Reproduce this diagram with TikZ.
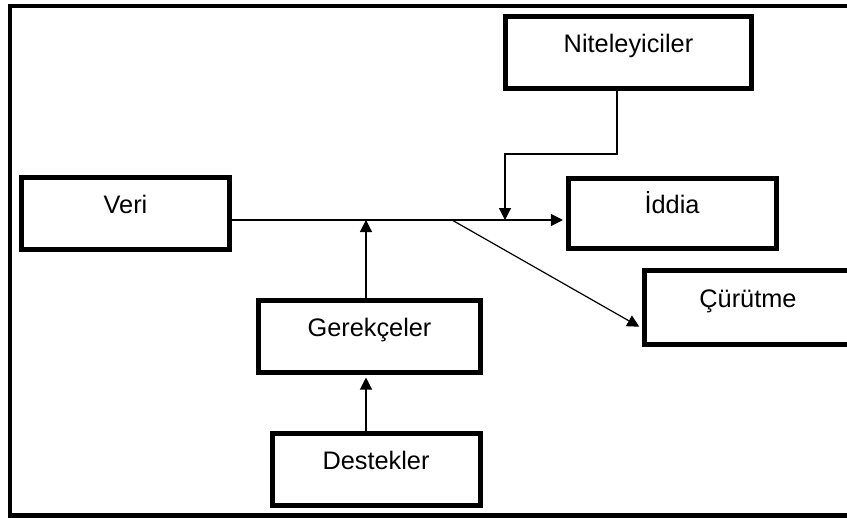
\documentclass[tikz,border=0pt]{standalone}
\usepackage{fontspec}
\setmainfont{Liberation Sans}
\usetikzlibrary{arrows.meta}

\begin{document}
\begin{tikzpicture}[x=0.75pt, y=-0.75pt, >={Triangle[length=9pt, width=9pt]},
  kutu/.style={draw, line width=3.75pt, minimum width=156pt, minimum height=54pt,
    text height=13pt, text depth=13pt, inner sep=0pt,
    font=\fontsize{19}{23}\selectfont},
  ok/.style={->, line width=0.9pt},
  okkutu/.style={ok, shorten >=1.9pt}]
  \clip (0,0) rectangle (847,518);

  % Frame
  \draw[line width=3.2pt] (10,6) rectangle (900,515.5);

  % Boxes
  \node[kutu] (veri) at (125.5,213.5) {Veri};
  \node[kutu, minimum width=184.5pt] (nitel) at (628.5,52) {Niteleyiciler};
  \node[kutu, minimum height=52.5pt] (iddia) at (672,213.5) {İddia};
  \node[kutu, minimum width=166.5pt] (gerek) at (369.5,336.5) {Gerekçeler};
  \node[kutu, minimum height=55.5pt] (curut) at (748,307.5) {Çürütme};
  \node[kutu] (destek) at (376,469) {Destekler};

  % Points on the main line
  \coordinate (warrant) at (366,220);
  \coordinate (split) at (452,220);
  \coordinate (qual) at (505,220);
  \coordinate (bend) at (617,154);
  \coordinate (rebut) at (642,328);

  % Connectors
  \draw[okkutu] (veri.east |- split) -- (iddia.west |- split);
  \draw[ok] (gerek.north -| warrant) -- (warrant);
  \draw[okkutu] (destek.north -| warrant) -- (gerek.south -| warrant);
  \draw[ok] (nitel.south -| bend) -- (bend) -| (qual);
  \draw[okkutu] (split) -- (curut.west |- rebut);
\end{tikzpicture}
\end{document}
